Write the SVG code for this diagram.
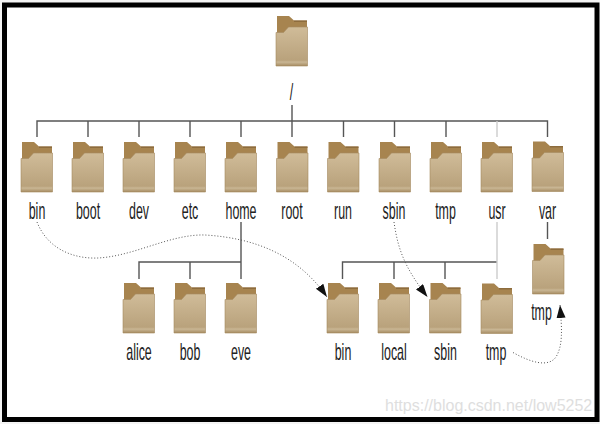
<svg xmlns="http://www.w3.org/2000/svg" width="600" height="424" viewBox="0 0 600 424">
<style>
.lbl{font-family:"Liberation Sans",Arial,sans-serif;font-size:23px;fill:#222;text-anchor:middle}
.t{fill:none;stroke:#555;stroke-width:1.4}
.d{fill:none;stroke:#555;stroke-width:1;stroke-dasharray:1 2}
.wm{font-family:"Liberation Sans",Arial,sans-serif;font-size:16px;fill:#dedede}
</style>
<defs>
<linearGradient id="fg" x1="0" y1="0" x2="0" y2="1">
<stop offset="0" stop-color="#d0bc99"/><stop offset=".85" stop-color="#b9a27c"/><stop offset=".9" stop-color="#c9b694"/><stop offset="1" stop-color="#a68c62"/>
</linearGradient>
<filter id="soft" x="-10%" y="-10%" width="120%" height="120%"><feGaussianBlur stdDeviation="0.45"/></filter>
<g id="folder" filter="url(#soft)">
<path d="M1 1H13L18 5.500H31V22H1Z" fill="#a78450"/>
<path d="M18 5.500H31V7H18Z" fill="#8d6c3c"/>
<path d="M0 17.500H7.500L12.500 12H31.500V51H0Z" fill="url(#fg)" stroke="#a58a60" stroke-width=".6"/>
</g>
<marker id="ah" markerUnits="userSpaceOnUse" markerWidth="14" markerHeight="10" refX="13" refY="4.500" orient="auto"><path d="M0 0L13 4.500L0 9Z" fill="#111"/></marker>
</defs>
<rect width="600" height="424" fill="#f4f4f4"/>
<rect x="4.500" y="5" width="592.500" height="414.500" fill="#fff" stroke="#000" stroke-width="5"/>
<g id="connectors">
<path class="t" d="M292 105V121M37 137V121H547.500V137M88 121V137M139 121V137M190 121V137M241 121V137M292 121V137M343.500 121V137M394.500 121V137M446 121V137"/>
<path class="t" style="stroke:#ccc" d="M497 121V137"/>
<path class="t" d="M241 222V279M139 279V262H241M190 262V279"/>
<path class="t" d="M342.500 279V262H497M394 262V279M445 262V279"/>
<path class="t" style="stroke:#ccc" d="M497 222V279"/>
<path class="t" d="M547.500 222V239"/>
<path class="d" marker-end="url(#ah)" d="M37 222C48 250 75 259 98 258C135 256 170 234 205 235C255 238 298 255 327 297"/>
<path class="d" marker-end="url(#ah)" d="M394 222C398 250 405 268 427.500 297"/>
<path class="d" marker-end="url(#ah)" d="M513 352.500C530 362 548 368 556 357C563 345 562 330 560 305"/>
</g>
<g id="n-root"><use href="#folder" x="276" y="15"/><text class="lbl" transform="translate(291.500 100) scale(.54 1)">/</text></g>
<g id="n-bin"><use href="#folder" x="21" y="141"/><text class="lbl" transform="translate(37 219) scale(.54 1)">bin</text></g>
<g id="n-boot"><use href="#folder" x="72" y="141"/><text class="lbl" transform="translate(88 219) scale(.54 1)">boot</text></g>
<g id="n-dev"><use href="#folder" x="123" y="141"/><text class="lbl" transform="translate(139 219) scale(.54 1)">dev</text></g>
<g id="n-etc"><use href="#folder" x="174" y="141"/><text class="lbl" transform="translate(190 219) scale(.54 1)">etc</text></g>
<g id="n-home"><use href="#folder" x="225" y="141"/><text class="lbl" transform="translate(241 219) scale(.54 1)">home</text></g>
<g id="n-rootdir"><use href="#folder" x="276.500" y="141"/><text class="lbl" transform="translate(292 219) scale(.54 1)">root</text></g>
<g id="n-run"><use href="#folder" x="327.500" y="141"/><text class="lbl" transform="translate(343 219) scale(.54 1)">run</text></g>
<g id="n-sbin"><use href="#folder" x="379" y="141"/><text class="lbl" transform="translate(394 219) scale(.54 1)">sbin</text></g>
<g id="n-tmp"><use href="#folder" x="430" y="141"/><text class="lbl" transform="translate(445.500 219) scale(.54 1)">tmp</text></g>
<g id="n-usr"><use href="#folder" x="481" y="141"/><text class="lbl" transform="translate(497 219) scale(.54 1)">usr</text></g>
<g id="n-var"><use href="#folder" x="532" y="140.500"/><text class="lbl" transform="translate(547.500 219) scale(.54 1)">var</text></g>
<g id="n-alice"><use href="#folder" x="123" y="282"/><text class="lbl" transform="translate(139 359.500) scale(.54 1)">alice</text></g>
<g id="n-bob"><use href="#folder" x="174" y="282"/><text class="lbl" transform="translate(190 359.500) scale(.54 1)">bob</text></g>
<g id="n-eve"><use href="#folder" x="225" y="282"/><text class="lbl" transform="translate(241 359.500) scale(.54 1)">eve</text></g>
<g id="n-usr-bin"><use href="#folder" x="327" y="282"/><text class="lbl" transform="translate(343 359.500) scale(.54 1)">bin</text></g>
<g id="n-usr-local"><use href="#folder" x="378" y="282"/><text class="lbl" transform="translate(394 359.500) scale(.54 1)">local</text></g>
<g id="n-usr-sbin"><use href="#folder" x="429.500" y="282"/><text class="lbl" transform="translate(445.500 359.500) scale(.54 1)">sbin</text></g>
<g id="n-usr-tmp"><use href="#folder" x="481" y="282.500"/><text class="lbl" transform="translate(496 359.500) scale(.54 1)">tmp</text></g>
<g id="n-var-tmp"><use href="#folder" x="532.500" y="243"/><text class="lbl" transform="translate(541.500 319.500) scale(.54 1)">tmp</text></g>
<text class="wm" x="385" y="411">https://blog.csdn.net/low5252</text>
</svg>
